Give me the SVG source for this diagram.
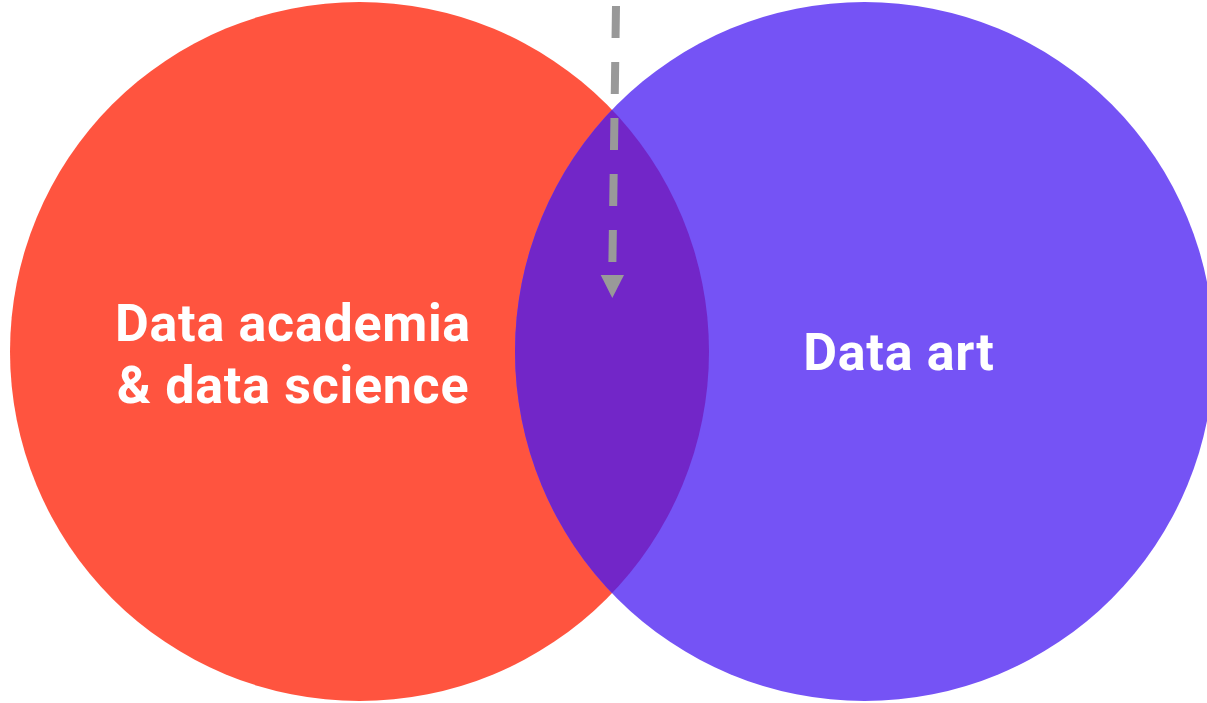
<svg xmlns="http://www.w3.org/2000/svg" width="1207" height="703" viewBox="0 0 1207 703">
<style>
.lbl{font-family:Roboto,"Liberation Sans",sans-serif;font-weight:bold;font-size:52px;letter-spacing:0.7px;fill:#ffffff;text-anchor:middle}
</style>
<defs>
<clipPath id="clipL"><circle cx="359.5" cy="351.5" r="349.5"/></clipPath>
</defs>
<g id="node-academia">
<circle cx="359.5" cy="351.5" r="349.5" fill="#FF543F"/>
<text class="lbl" x="293" y="341">Data academia</text>
<text class="lbl" x="293" y="403">&amp; data science</text>
</g>
<g id="node-art">
<circle cx="864.5" cy="351.5" r="349.5" fill="#7553F5"/>
<text class="lbl" x="899" y="370">Data art</text>
</g>
<g id="node-overlap">
<circle cx="864.5" cy="351.5" r="349.5" fill="#7226C8" clip-path="url(#clipL)"/>
</g>
<g id="connectors">
<line x1="616" y1="6" x2="612.3" y2="270" stroke="#999999" stroke-width="8" stroke-dasharray="32 24"/>
<polygon points="600.7,275 624,275 612.3,298" fill="#999999"/>
</g>
</svg>
